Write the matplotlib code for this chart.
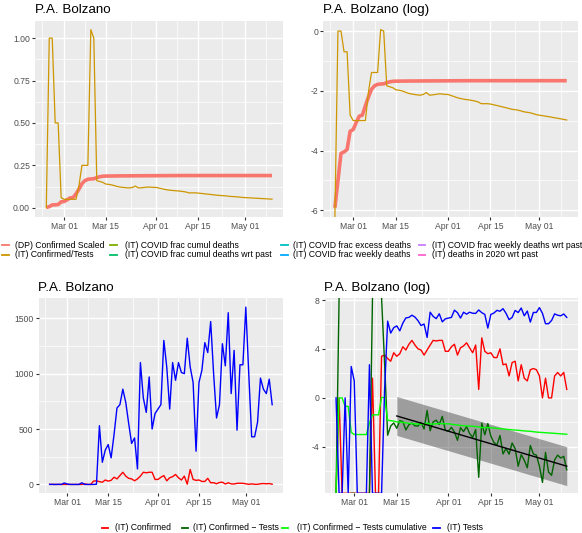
import numpy as np
import matplotlib
matplotlib.use('Agg')
import matplotlib.pyplot as plt
import matplotlib.dates as mdates
from matplotlib.lines import Line2D

plt.rcParams['font.family'] = ['Liberation Sans', 'DejaVu Sans']

# ---------------- data ----------------
dates = np.arange(np.datetime64('2020-02-24'), np.datetime64('2020-05-11'))

confirmed_scaled = [
    0.0027, 0.0067, 0.0167, 0.0175, 0.019, 0.035, 0.037, 0.047, 0.058, 0.060,
    0.082, 0.110, 0.142, 0.160, 0.168, 0.170, 0.171, 0.178, 0.183, 0.186,
    0.187, 0.1872, 0.1874, 0.1876, 0.1878, 0.188, 0.1881, 0.1882, 0.1883, 0.1884,
    0.1885, 0.1886, 0.1887, 0.1888, 0.1889, 0.189, 0.1891, 0.1892, 0.1893, 0.1894,
    0.1895, 0.1896, 0.1897, 0.1898, 0.1899, 0.19, 0.19, 0.19, 0.19, 0.19,
    0.19, 0.19, 0.19, 0.19, 0.19, 0.19, 0.19, 0.19, 0.19, 0.19,
    0.19, 0.19, 0.19, 0.19, 0.19, 0.19, 0.19, 0.19, 0.19, 0.19,
    0.19, 0.19, 0.19, 0.19, 0.19, 0.19, 0.19]

confirmed_over_tests = [
    0.0, 1.0, 1.0, 0.5, 0.5, 0.06, 0.05, 0.05, 0.05, 0.05,
    0.05, 0.13, 0.25, 0.25, 0.25, 1.05, 1.0, 0.16, 0.155, 0.15,
    0.14, 0.138, 0.135, 0.13, 0.125, 0.122, 0.12, 0.118, 0.117, 0.12,
    0.128, 0.117, 0.118, 0.12, 0.122, 0.122, 0.12, 0.12, 0.116, 0.112,
    0.108, 0.105, 0.103, 0.101, 0.100, 0.098, 0.096, 0.093, 0.088, 0.088,
    0.088, 0.087, 0.085, 0.083, 0.081, 0.079, 0.077, 0.075, 0.073, 0.072,
    0.071, 0.069, 0.067, 0.066, 0.065, 0.063, 0.061, 0.060, 0.059, 0.058,
    0.057, 0.056, 0.055, 0.054, 0.053, 0.052, 0.051]

confirmed_daily = [
    0, 1, 0, 0, 0, 0, 0, 0, 0, 0, 0, 0,
    5, 0, 0, 30, 33, 25, 20, 40, 30, 37,
    65, 50, 80, 110, 75, 55, 50, 33, 50, 75,
    110, 105, 110, 110, 45, 45, 65, 80, 33, 60,
    70, 90, 60, 40, 75, 2, 135, 45, 37, 40,
    27, 27, 55, 15, 16, 6, 18, 20, 4, 15,
    5, 4, 10, 11, 10, 6, 1, 5, 1, 1,
    6, 8, 6, 8, 2]

tests_daily = [
    1, 0, 0, 1, 0, 13, 4, 0, 0, 0, 0, 15, 0, 0, 0, 0, 2,
    530, 200, 310, 360, 240, 450, 690, 720, 860, 740,
    550, 370, 420, 140, 1100, 780, 650, 970, 500, 640,
    680, 720, 1300, 1060, 680, 1100, 940, 1100, 1010, 1000,
    1320, 1060, 920, 300, 920, 1030, 1280, 1190, 1470, 1000,
    600, 720, 1270, 1070, 1550, 820, 1210, 490, 1080, 1080,
    1600, 1000, 430, 430, 560, 960, 860, 820, 950, 720]

fit_start = np.datetime64('2020-03-15')

top_labels = ['(DP) Confirmed Scaled', '(IT) Confirmed/Tests',
              '(IT) COVID frac cumul deaths', '(IT) COVID frac cumul deaths wrt past',
              '(IT) COVID frac excess deaths', '(IT) COVID frac weekly deaths',
              '(IT) COVID frac weekly deaths wrt past', '(IT) deaths in 2020 wrt past']
top_colors = ['#F8766D', '#CD9600', '#7CAE00', '#00BE67',
              '#00BFC4', '#00A9FF', '#C77CFF', '#FF61CC']
bottom_labels = ['(IT) Confirmed', '(IT) Confirmed \u2212 Tests',
                 '(IT) Confirmed \u2212 Tests cumulative', '(IT) Tests']
bottom_colors = ['red', 'darkgreen', '#00FF00', 'blue']

tick_dates = ['2020-03-01', '2020-03-15', '2020-04-01', '2020-04-15', '2020-05-01']
tick_labels = ['Mar 01', 'Mar 15', 'Apr 01', 'Apr 15', 'May 01']
tick_ext = ['2020-02-15'] + tick_dates + ['2020-05-15']
title = 'P.A. Bolzano'

# ---------------- figure ----------------
W, H = 582, 533
fig = plt.figure(figsize=(W / 100, H / 100), dpi=100)

def box(x0, x1, y0, y1):
    return [x0 / W, 1 - y1 / H, (x1 - x0) / W, (y1 - y0) / H]

FS = 6.2
x = mdates.date2num(dates)
xmaj = mdates.date2num(np.array(tick_dates, dtype='datetime64[D]'))
xe = mdates.date2num(np.array(tick_ext, dtype='datetime64[D]'))
xmin_ = (xe[:-1] + xe[1:]) / 2
span = x[-1] - x[0]
xlim = (x[0] - 0.05 * span, x[-1] + 0.05 * span)

def style(ax, yticks, ylabels, yminor, ylim):
    ax.set_facecolor('#EBEBEB')
    for s in ax.spines.values():
        s.set_visible(False)
    ax.set_xlim(*xlim)
    ax.set_ylim(*ylim)
    ax.set_xticks(xmaj)
    ax.set_xticklabels(tick_labels)
    ax.set_xticks(xmin_, minor=True)
    ax.set_yticks(yticks)
    ax.set_yticklabels(ylabels)
    ax.set_yticks(yminor, minor=True)
    ax.grid(which='major', color='white', lw=1.0)
    ax.grid(which='minor', color='white', lw=0.5)
    ax.set_axisbelow(True)
    ax.tick_params(which='major', length=2.0, width=0.8, color='#333333',
                   labelsize=FS, labelcolor='#4D4D4D', pad=1.6)
    ax.tick_params(which='minor', length=0)

def expand(vals):
    v = np.asarray(vals, float)
    v = v[np.isfinite(v)]
    lo, hi = v.min(), v.max()
    d = hi - lo
    return (lo - 0.05 * d, hi + 0.05 * d)

def edge(v, ylim):
    v = np.array(v, float)
    v[np.isneginf(v)] = ylim[0]
    v[np.isposinf(v)] = ylim[1]
    return v

cs = np.array(confirmed_scaled)
ct = np.array(confirmed_over_tests)
conf = np.array(confirmed_daily, float)
tst = np.array(tests_daily, float)

with np.errstate(divide='ignore', invalid='ignore'):
    log_cs = np.log(cs)
    log_ct = np.log(ct)
    log_conf = np.log(conf)
    log_tst = np.log(tst)
    diff = log_conf - log_tst

# Top-left
ax1 = fig.add_axes(box(35, 283.3, 20.7, 216.7))
yl1 = expand(np.concatenate([cs, ct]))
style(ax1, [0, 0.25, 0.5, 0.75, 1.0], ['0.00', '0.25', '0.50', '0.75', '1.00'],
      [0.125, 0.375, 0.625, 0.875], yl1)
ax1.plot(x, cs, color='#F8766D', lw=2.6, solid_capstyle='butt')
ax1.plot(x, ct, color='#CD9600', lw=0.9)

# Top-right
ax2 = fig.add_axes(box(323.3, 578.3, 20.7, 216.7))
yl2 = expand(np.concatenate([log_cs, log_ct]))
style(ax2, [0, -2, -4, -6], ['0', '-2', '-4', '-6'], [-1, -3, -5], yl2)
ax2.plot(x, edge(log_cs, yl2), color='#F8766D', lw=2.6, solid_capstyle='butt')
ax2.plot(x, edge(log_ct, yl2), color='#CD9600', lw=0.9)

# Bottom-left
ax3 = fig.add_axes(box(38.5, 283.3, 298.3, 493.3))
yl3 = expand(np.concatenate([conf, tst]))
style(ax3, [0, 500, 1000, 1500], ['0', '500', '1000', '1500'], [250, 750, 1250], yl3)
ax3.plot(x, conf, color='red', lw=1.0)
ax3.plot(x, tst, color='blue', lw=1.0)

# Bottom-right
ax4 = fig.add_axes(box(324.5, 578.3, 298.3, 493.3))
yl4 = (-7.8, 8.14)
style(ax4, [8, 4, 0, -4], ['8', '4', '0', '-4'], [6, 2, -2, -6], yl4)
m = (dates >= fit_start) & np.isfinite(diff)
coef = np.polyfit(x[m], diff[m], 1)
fitted = np.polyval(coef, x[m])
sd = np.std(diff[m] - fitted, ddof=2)
ax4.fill_between(x[m], fitted - 1.96 * sd, fitted + 1.96 * sd, color='#333333',
                 alpha=0.42, lw=0)
ax4.plot(x, edge(log_conf, yl4), color='red', lw=1.0, clip_on=True)
ax4.plot(x, edge(diff, yl4), color='darkgreen', lw=1.0)
ax4.plot(x, edge(log_ct, yl4), color='#00FF00', lw=1.0)
ax4.plot(x, edge(log_tst, yl4), color='blue', lw=1.0)
ax4.plot(x[m], fitted, color='black', lw=1.0)

# titles
for (px, py, t) in [(35, 13.3, title), (323.3, 13.3, title + ' (log)'),
                    (38.5, 291, title), (324.5, 291, title + ' (log)')]:
    fig.text(px / W, 1 - py / H, t, fontsize=9.6, color='black', va='baseline', ha='left')

# legends
def key(xk, yk, color, label, xt):
    yf = 1 - yk / H
    fig.add_artist(Line2D([xk / W, (xk + 6.6) / W], [yf, yf], transform=fig.transFigure,
                          color=color, lw=1.3))
    fig.text(xt / W, yf, label, fontsize=FS, color='black', va='center', ha='left')

col_key = [2, 110, 281, 418.5]
col_txt = [15, 125, 293, 432]
rows = [245, 254.5]
for i, (lab, c) in enumerate(zip(top_labels, top_colors)):
    key(col_key[i // 2], rows[i % 2], c, lab, col_txt[i // 2])

b_key = [101.7, 181.7, 281.7, 433]
b_txt = [115, 193.3, 296.7, 446.7]
for i, (lab, c) in enumerate(zip(bottom_labels, bottom_colors)):
    key(b_key[i], 527.7, c, lab, b_txt[i])

fig.savefig('out.png', dpi=100)
